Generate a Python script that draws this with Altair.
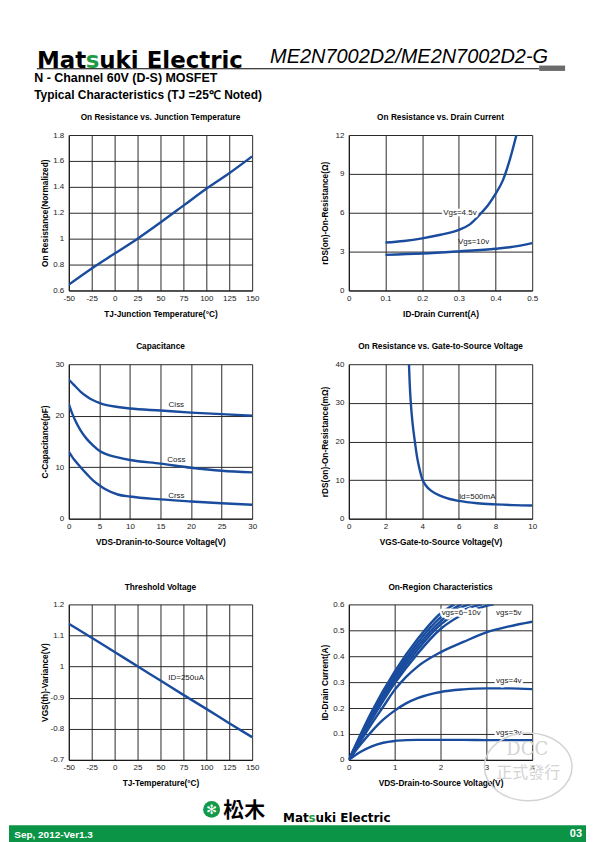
import altair as alt
import pandas as pd

FONT = "Liberation Sans"
LOGO_FONT = "DejaVu Sans"
CJK_FONT = "Noto Sans CJK TC"
BLUE = "#1a4c9e"
GRID = "#2a2a2a"
GREEN = "#0c9446"
LOGO_GREEN = "#1f9b45"
STAMP = "#d4d4d4"
W = 184

# ---------------- texts ----------------
part_number = "ME2N7002D2/ME2N7002D2-G"
subtitle_1 = "N - Channel 60V (D-S) MOSFET"
subtitle_2 = "Typical Characteristics (TJ =25℃ Noted)"
footer_date = "Sep, 2012-Ver1.3"
footer_page = "03"
footer_kanji = "松木"
stamp_top = "DCC"
stamp_bottom = "正式發行"

# ---------------- data ----------------
# 1. On Resistance vs. Junction Temperature
tj_temp = [-50, -25, 0, 25, 50, 75, 100, 125, 150]
tj_rdson_norm = [0.645, 0.77, 0.885, 1.0, 1.125, 1.255, 1.385, 1.505, 1.635]

# 2. On Resistance vs. Drain Current
id_vgs45 = [0.1, 0.15, 0.2, 0.25, 0.3, 0.33, 0.36, 0.38, 0.4, 0.42, 0.44, 0.457]
rds_vgs45 = [3.7, 3.82, 4.02, 4.3, 4.68, 5.1, 5.95, 6.6, 7.45, 8.5, 10.2, 12.0]
id_vgs10 = [0.1, 0.2, 0.3, 0.4, 0.45, 0.5]
rds_vgs10 = [2.75, 2.85, 3.02, 3.22, 3.38, 3.65]

# 3. Capacitance
cap_vds = [0, 0.5, 1, 2, 3, 4, 5, 6, 8, 10, 15, 20, 25, 30]
ciss = [27.0, 26.4, 25.8, 24.6, 23.7, 23.0, 22.5, 22.1, 21.7, 21.4, 21.0, 20.6, 20.3, 20.0]
coss = [22.3, 20.6, 19.2, 17.0, 15.4, 14.2, 13.2, 12.6, 11.9, 11.4, 10.7, 9.9, 9.3, 9.0]
crss = [13.0, 12.1, 11.3, 9.9, 8.6, 7.4, 6.5, 5.7, 4.7, 4.3, 3.75, 3.35, 3.0, 2.7]

# 4. On Resistance vs. Gate-to-Source Voltage
vgs_v = [3.28, 3.32, 3.38, 3.47, 3.6, 3.72, 3.85, 4.0, 4.2, 4.5, 5.0, 5.5, 6.0, 7.0, 8.0, 9.0, 10.0]
rds_mohm = [40, 35, 30, 25, 20, 16, 13, 10.3, 8.6, 7.2, 5.9, 5.1, 4.6, 4.0, 3.7, 3.5, 3.4]

# 5. Threshold Voltage
vth_temp = [-50, -25, 0, 25, 50, 75, 100, 125, 150]
vth_var = [1.138, 1.093, 1.047, 1.001, 0.955, 0.909, 0.864, 0.818, 0.773]

# 6. On-Region Characteristics
vds_on = [0, 0.25, 0.5, 0.75, 1.0, 1.25, 1.5, 2.0, 2.5, 3.0, 3.5, 4.0]
id_vgs3 = [0, 0.03, 0.052, 0.066, 0.073, 0.076, 0.077, 0.077, 0.077, 0.076, 0.076, 0.076]
id_vgs4 = [0, 0.058, 0.11, 0.155, 0.19, 0.218, 0.238, 0.262, 0.272, 0.276, 0.276, 0.273]
id_vgs5 = [0, 0.07, 0.14, 0.205, 0.27, 0.32, 0.36, 0.415, 0.455, 0.492, 0.515, 0.533]
vds_vgs6 = [0, 0.5, 1.0, 1.5, 2.0, 2.5, 3.0, 3.16]
id_vgs6 = [0, 0.155, 0.295, 0.41, 0.505, 0.562, 0.594, 0.6]
vds_vgs7 = [0, 0.5, 1.0, 1.5, 2.0, 2.5, 2.9]
id_vgs7 = [0, 0.163, 0.306, 0.425, 0.522, 0.578, 0.6]
vds_vgs8 = [0, 0.5, 1.0, 1.5, 2.0, 2.5, 2.65]
id_vgs8 = [0, 0.17, 0.317, 0.438, 0.535, 0.592, 0.6]
vds_vgs9 = [0, 0.5, 1.0, 1.5, 2.0, 2.45]
id_vgs9 = [0, 0.178, 0.328, 0.452, 0.55, 0.6]
vds_vgs10 = [0, 0.5, 1.0, 1.5, 2.0, 2.3]
id_vgs10_on = [0, 0.186, 0.34, 0.466, 0.565, 0.6]

# annotations (text, x, y, white halo)
notes_rid = [("Vgs=4.5v", 0.303, 6.0, True), ("Vgs=10v", 0.34, 3.75, False)]
notes_cap = [("Ciss", 17.6, 22.1, False), ("Coss", 17.6, 11.3, False), ("Crss", 17.6, 4.5, False)]
notes_vgs = [("Id=500mA", 7.0, 5.7, False)]
notes_vth = [("ID=250uA", 78, 0.963, False)]
notes_on = [("vgs=6~10v", 2.45, 0.567, True), ("vgs=5v", 3.49, 0.567, False),
            ("vgs=4v", 3.49, 0.305, True), ("vgs=3v", 3.49, 0.105, True)]

ONE = pd.DataFrame({"k": [0]})
PLAIN = "'' + datum.value"


def txt(text, x, y, size, font=FONT, weight="normal", color="black", align="left",
        style="normal", baseline="alphabetic"):
    return alt.Chart(ONE).mark_text(
        text=text, font=font, fontSize=size, fontWeight=weight, fontStyle=style,
        color=color, align=align, baseline=baseline,
    ).encode(x=alt.value(x), y=alt.value(y))


def brand(x0, y, size):
    w_mat = 2.127 * size
    w_s = 0.595 * size
    return [
        txt("Mat", x0, y, size, LOGO_FONT, "bold"),
        txt("s", x0 + w_mat, y, size, LOGO_FONT, "bold", LOGO_GREEN),
        txt("uki Electric", x0 + w_mat + w_s, y, size, LOGO_FONT, "bold"),
    ]


def empty(h):
    return alt.Chart(ONE).mark_point(opacity=0).encode(
        x=alt.value(0), y=alt.value(0)).properties(width=W, height=h)


def panel(series, xdom, xvals, xtitle, ydom, yvals, ytitle, title, h, notes=(), ylabel_expr=PLAIN):
    df = pd.DataFrame([{"s": n, "x": x, "y": y}
                       for n, xs, ys in series for x, y in zip(xs, ys)])
    xaxis = alt.Axis(values=xvals, labelExpr=PLAIN, title=xtitle, titleX=W / 2, titleY=26,
                     titleAlign="center", titleBaseline="alphabetic", labelPadding=4)
    yaxis = alt.Axis(values=yvals, labelExpr=ylabel_expr, title=ytitle, titleX=-21.5,
                     titleY=h / 2, titleAlign="center", titleBaseline="alphabetic",
                     labelPadding=5)
    xenc = alt.X("x:Q", scale=alt.Scale(domain=xdom, nice=False, zero=False), axis=xaxis)
    yenc = alt.Y("y:Q", scale=alt.Scale(domain=ydom, nice=False, zero=False), axis=yaxis)
    layers = [alt.Chart(df).mark_line(color=BLUE, strokeWidth=2.4, interpolate="monotone",
                                      clip=True).encode(x=xenc, y=yenc, detail="s:N")]
    if notes:
        ndf = pd.DataFrame(list(notes), columns=["t", "x", "y", "halo"])
        hdf = ndf[ndf["halo"]]
        if len(hdf):
            layers.append(alt.Chart(hdf).mark_text(
                font=FONT, fontSize=8, color="white", stroke="white", strokeWidth=5,
                strokeJoin="round", align="center", baseline="middle",
            ).encode(x=xenc, y=yenc, text="t:N"))
        layers.append(alt.Chart(ndf).mark_text(
            font=FONT, fontSize=8, color="#222", align="center", baseline="middle",
        ).encode(x=xenc, y=yenc, text="t:N"))
    return alt.layer(*layers).properties(width=W, height=h, title=title)


c1 = panel([("r", tj_temp, tj_rdson_norm)], [-50, 150], [-50, -25, 0, 25, 50, 75, 100, 125, 150],
           "TJ-Junction Temperature(°C)", [0.6, 1.8], [0.6, 0.8, 1.0, 1.2, 1.4, 1.6, 1.8],
           "On Resistance(Normalized)", "On Resistance vs. Junction Temperature", 156)
c2 = panel([("4.5", id_vgs45, rds_vgs45), ("10", id_vgs10, rds_vgs10)], [0, 0.5],
           [0, 0.1, 0.2, 0.3, 0.4, 0.5], "ID-Drain Current(A)", [0, 12], [0, 3, 6, 9, 12],
           "rDS(on)-On-Resistance(Ω)", "On Resistance vs. Drain Current", 156, notes_rid)
c3 = panel([("ciss", cap_vds, ciss), ("coss", cap_vds, coss), ("crss", cap_vds, crss)],
           [0, 30], [0, 5, 10, 15, 20, 25, 30], "VDS-Dranin-to-Source Voltage(V)",
           [0, 30], [0, 10, 20, 30], "C-Capacitance(pF)", "Capacitance", 155, notes_cap)
c4 = panel([("r", vgs_v, rds_mohm)], [0, 10], [0, 2, 4, 6, 8, 10],
           "VGS-Gate-to-Source Voltage(V)", [0, 40], [0, 10, 20, 30, 40],
           "rDS(on)-On-Resistance(mΩ)", "On Resistance vs. Gate-to-Source Voltage", 155, notes_vgs)
c5 = panel([("v", vth_temp, vth_var)], [-50, 150], [-50, -25, 0, 25, 50, 75, 100, 125, 150],
           "TJ-Temperature(°C)", [0.7, 1.2], [0.7, 0.8, 0.9, 1.0, 1.1, 1.2],
           "VGS(th)-Variance(V)", "Threshold Voltage", 156, notes_vth,
           ylabel_expr="datum.value < 0.95 ? '-' + format(datum.value, '.1f') : '' + datum.value")
c6 = panel([("3", vds_on, id_vgs3), ("4", vds_on, id_vgs4), ("5", vds_on, id_vgs5),
            ("6", vds_vgs6, id_vgs6), ("7", vds_vgs7, id_vgs7), ("8", vds_vgs8, id_vgs8),
            ("9", vds_vgs9, id_vgs9), ("10", vds_vgs10, id_vgs10_on)],
           [0, 4], [0, 1, 2, 3, 4], "VDS-Drain-to-Source Voltage(V)",
           [0, 0.6], [0, 0.1, 0.2, 0.3, 0.4, 0.5, 0.6], "ID-Drain Current(A)",
           "On-Region Characteristics", 156, notes_on)

header = alt.layer(
    *brand(-32, 54.7, 23),
    txt(part_number, 202, 49.3, 20, style="italic"),
    alt.Chart(ONE).mark_rule(color="black", strokeWidth=1.2).encode(
        x=alt.value(-32), x2=alt.value(472), y=alt.value(55.5)),
    alt.Chart(ONE).mark_rect(color="#6b6b6b").encode(
        x=alt.value(472), x2=alt.value(498), y=alt.value(52.3), y2=alt.value(57.7)),
    txt(subtitle_1, -34.7, 69.3, 12.5, weight="bold"),
    txt(subtitle_2, -34.7, 86, 12, weight="bold"),
).properties(width=W, height=122)

footer = alt.layer(
    alt.Chart(ONE).mark_rect(color=GREEN).encode(
        x=alt.value(-60), x2=alt.value(519), y=alt.value(65.7), y2=alt.value(85)),
    txt(footer_date, -54.7, 78, 10, weight="bold", color="white"),
    txt(footer_page, 515, 77, 11, weight="bold", color="white", align="right"),
    alt.Chart(ONE).mark_point(shape="circle", filled=True, size=289, color="#129a48",
                              opacity=1).encode(x=alt.value(143.3), y=alt.value(49.7)),
    txt("✻", 143.3, 50, 13, font="DejaVu Sans", color="white", align="center", baseline="middle"),
    txt(footer_kanji, 155, 57, 21, CJK_FONT, "bold"),
    *brand(215, 62.7, 12),
    alt.Chart(ONE).mark_point(
        shape="M -1 0 A 1 0.773 0 1 1 1 0 A 1 0.773 0 1 1 -1 0 Z", size=7744, filled=False,
        color=STAMP, strokeWidth=1.5, opacity=1,
    ).encode(x=alt.value(461), y=alt.value(7)),
    txt(stamp_top, 460, -4.7, 18, "DejaVu Serif", color=STAMP, align="center"),
    txt(stamp_bottom, 461, 18, 16, CJK_FONT, color=STAMP, align="center"),
).properties(width=W, height=85)

cells = [header, empty(122), c1, c2, empty(74), empty(74), c3, c4,
         empty(86), empty(86), c5, c6, footer, empty(85)]

chart = alt.concat(
    *cells, columns=2, spacing={"row": 0, "column": 97}, bounds="flush"
).properties(padding=0).configure_view(stroke="transparent").configure_axis(
    labelFont=FONT, labelFontSize=8, labelColor="#222", titleFont=FONT, titleFontSize=8.3,
    titleFontWeight="bold", titleColor="black", gridColor=GRID, gridWidth=1, gridOpacity=1,
    domainColor="#111", domainWidth=1, ticks=False, labelFlush=False, labelOverlap=False,
    labelBound=False,
).configure_title(
    font=FONT, fontSize=8.3, fontWeight="bold", color="black", anchor="middle",
    baseline="alphabetic", offset=9.5, frame="group",
)

chart.save("out.html", embed_options={"renderer": "svg", "actions": False})
